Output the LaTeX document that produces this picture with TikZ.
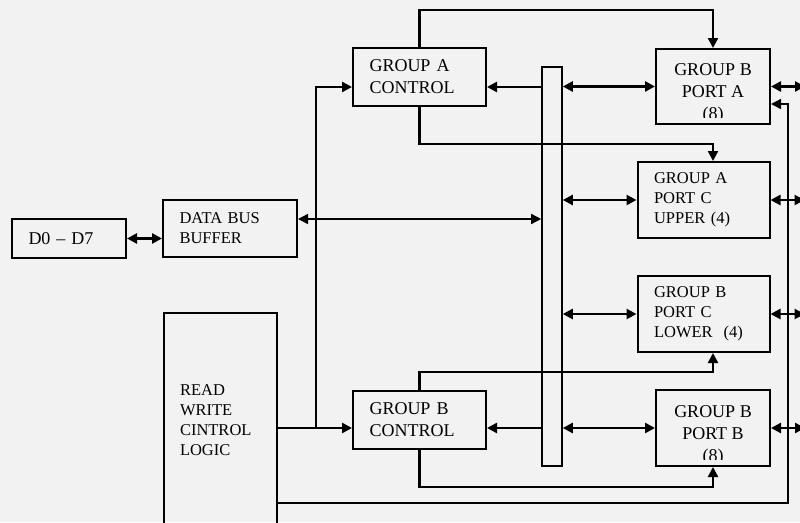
\documentclass[tikz,border=0pt]{standalone}
\usepackage{fontspec}
\setmainfont{Liberation Serif}
\usetikzlibrary{arrows.meta}

\definecolor{bgpaper}{HTML}{F2F2F2}

\begin{document}
\begin{tikzpicture}[x=1pt, y=-1pt, line cap=butt, line join=miter,
  blk/.style={draw, line width=2pt, inner sep=0pt},
  lblk/.style={blk, align=left, inner xsep=16.5pt, text width=#1},
  bigtxt/.style={font=\fontsize{18}{22}\selectfont},
  smltxt/.style={font=\fontsize{16.5}{19.8}\selectfont},
  wire/.style={line width=2.8pt},
  thinwire/.style={line width=1.5pt},
  tip/.style={-{Triangle[length=10pt,width=10pt]}},
  dbl/.style={{Triangle[length=10pt,width=10pt]}-{Triangle[length=10pt,width=10pt]}}]

  %% ════ 底色 / 画布 ════
  \fill[bgpaper] (0,0) rectangle (800,522);
  \useasboundingbox (0,0) rectangle (800,522);

  %% ════ 方框 ════
  \node[lblk=81pt, bigtxt, minimum height=39pt] (d07) at (69,238.5) {D0 – D7};
  \node[lblk=101pt, smltxt, minimum height=57pt] (dbb) at (230,228.5) {DATA BUS\\BUFFER};
  \node[lblk=80pt, smltxt, minimum height=214pt] (rwcl) at (220,420) {READ\\WRITE\\CINTROL\\LOGIC};
  \node[lblk=100pt, bigtxt, minimum height=58pt] (gac) at (419.5,77) {GROUP A\\CONTROL};
  \node[lblk=100pt, bigtxt, minimum height=58pt] (gbc) at (419.5,420) {GROUP B\\CONTROL};
  \node[lblk=99pt, smltxt, minimum height=76pt] (pcu) at (703.5,200) {GROUP A\\PORT C\\UPPER (4)};
  \node[lblk=99pt, smltxt, minimum height=76pt] (pcl) at (703.5,314) {GROUP B\\PORT C\\LOWER~ (4)};
  \node[blk, minimum width=114pt, minimum height=75pt] (pa) at (713,86.5) {};
  \node[blk, minimum width=114pt, minimum height=76pt] (pb) at (713,428) {};
  % 总线竖条
  \node[draw, line width=1.6pt, minimum width=20pt, minimum height=399pt, inner sep=0pt] (bus) at (552,266.5) {};

  %% ⚠ (8) 下半截被框底裁掉
  \begin{scope}
    \clip ([yshift=8pt]pa.south west) rectangle (pa.north east);
    \node[bigtxt, align=center] (patxt) at (713,93) {GROUP B\\PORT A\\(8)};
  \end{scope}
  \begin{scope}
    \clip ([yshift=8pt]pb.south west) rectangle (pb.north east);
    \node[bigtxt, align=center] (pbtxt) at (713,435) {GROUP B\\PORT B\\(8)};
  \end{scope}

  %% ════ 连线 ════
  \coordinate (dbbout) at ([yshift=9.5pt]dbb.east);
  \coordinate (gain) at ([yshift=-10pt]gac.west);
  \coordinate (gaout) at ([yshift=-10pt]gac.east);
  \coordinate (gbin) at ([yshift=-8pt]gbc.west);
  \coordinate (gbout) at ([yshift=-8pt]gbc.east);
  \coordinate (rwjoin) at (316,428);
  \coordinate (rwturn) at (788,503);
  \coordinate (paret) at ([yshift=-17.5pt]pa.east);

  \draw[wire, dbl] (d07.east) -- (d07.east -| dbb.west);
  \draw[thinwire, dbl] (dbbout) -- (dbbout -| bus.west);

  \draw[wire, tip] (rwcl.east |- gbin) -- (gbin);
  \draw[wire, tip] (rwjoin) |- (gain);
  \draw[wire, tip] (gaout -| bus.west) -- (gaout);
  \draw[wire, tip] (gbout -| bus.west) -- (gbout);

  \draw[line width=2.2pt, tip] (gac.north) -- ++(0,-37) -| (pa.north);
  \draw[line width=2.2pt, tip] (gac.south) -- ++(0,37) -| (pcu.north -| pa.south);
  \draw[line width=2.2pt, tip] (gbc.north) -- ++(0,-18) -| (pcl.south -| pa.south);
  \draw[line width=2.2pt, tip] (gbc.south) -- ++(0,37) -| (pb.south);

  \draw[thinwire, tip] (rwcl.east |- rwturn) -- (rwturn) |- (paret);

  \foreach \p in {pa,pcu,pcl,pb} {
    \coordinate (\p-out) at ([xshift=34pt]\p.east);
    \draw[wire, dbl] (bus.east |- \p.west) -- (\p.west);
    \draw[wire, dbl] (\p.east) -- (\p-out);
  }
\end{tikzpicture}
\end{document}
